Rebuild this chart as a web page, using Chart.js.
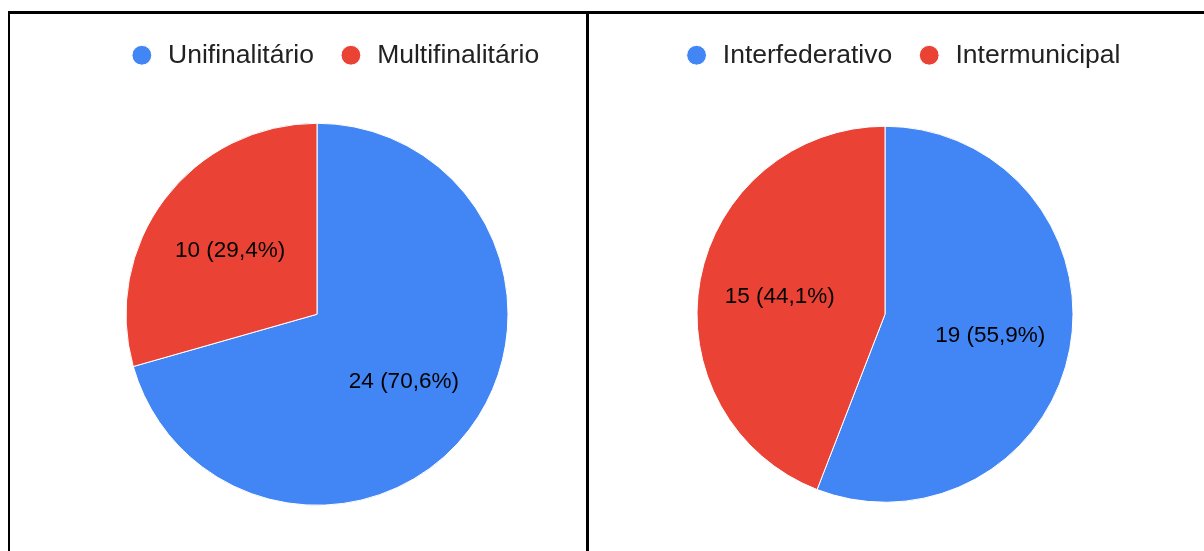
<!DOCTYPE html>
<html>
<head>
<meta charset="utf-8">
<script src="https://cdn.jsdelivr.net/npm/chart.js@4"></script>
<style>
  body { margin: 0; background: #fff; width: 1204px; height: 551px; overflow: hidden; position: relative; }
  .frame { position: absolute; left: 8px; top: 11px; width: 1300px; height: 600px; border-top: 3px solid #000; border-left: 2px solid #000; }
  .divider { position: absolute; left: 586px; top: 11px; width: 3px; height: 600px; background: #000; z-index: 2; }
  .box { position: absolute; top: 14px; width: 600px; height: 536px; }
</style>
</head>
<body>
<div class="frame"></div>
<div class="divider"></div>
<div class="box" style="left:34px"><canvas id="chartTipo"></canvas></div>
<div class="box" style="left:602px"><canvas id="chartAmbito"></canvas></div>
<script>
// chart 1 - finalidade
let labels1 = ['Unifinalitário', 'Multifinalitário'];
let data1 = [24, 10];
let colors1 = ['#4285F4', '#EA4335'];

// chart 2 - abrangencia
let labels2 = ['Interfederativo', 'Intermunicipal'];
let data2 = [19, 15];
let colors2 = ['#4285F4', '#EA4335'];

const fontFamily = '"Liberation Sans", Arial, Helvetica, sans-serif';

// pie sits a bit left of the legend, like the sheet export
const shiftArea = {
    id: 'shiftArea',
    afterLayout(chart) {
        chart.chartArea.left -= 17;
        chart.chartArea.right -= 17;
    }
};

// "n (p%)" labels inside slices
const sliceLabels = {
    id: 'sliceLabels',
    afterDatasetsDraw(chart) {
        const ctx = chart.ctx;
        const values = chart.data.datasets[0].data;
        const total = values.reduce((a, b) => a + b, 0);
        chart.getDatasetMeta(0).data.forEach((arc, i) => {
            const mid = (arc.startAngle + arc.endAngle) / 2;
            const r = arc.outerRadius * 0.57;
            const x = arc.x + Math.cos(mid) * r;
            const y = arc.y + Math.sin(mid) * r + 2;
            const pct = (values[i] / total * 100).toFixed(1).replace('.', ',');
            ctx.save();
            ctx.font = '22.5px ' + fontFamily;
            ctx.fillStyle = '#000';
            ctx.textAlign = 'center';
            ctx.textBaseline = 'middle';
            ctx.fillText(values[i] + ' (' + pct + '%)', x, y);
            ctx.restore();
        });
    }
};

function makePie(id, labels, data, colors, radius) {
    return new Chart(document.getElementById(id).getContext('2d'), {
        type: 'pie',
        data: {
            labels: labels,
            datasets: [{
                data: data,
                backgroundColor: colors,
                borderColor: '#fff',
                borderWidth: 1,
                radius: radius
            }]
        },
        options: {
            responsive: true,
            maintainAspectRatio: false,
            animation: false,
            layout: { padding: { top: 4 } },
            plugins: {
                legend: {
                    position: 'top',
                    labels: {
                        usePointStyle: true,
                        pointStyle: 'circle',
                        boxWidth: 26,
                        boxHeight: 14,
                        padding: 24,
                        color: '#222',
                        font: { family: fontFamily, size: 26.5 }
                    }
                },
                tooltip: { enabled: false }
            }
        },
        plugins: [shiftArea, sliceLabels]
    });
}

let chart1 = makePie('chartTipo', labels1, data1, colors1, 191);
let chart2 = makePie('chartAmbito', labels2, data2, colors2, 188);
</script>
</body>
</html>
